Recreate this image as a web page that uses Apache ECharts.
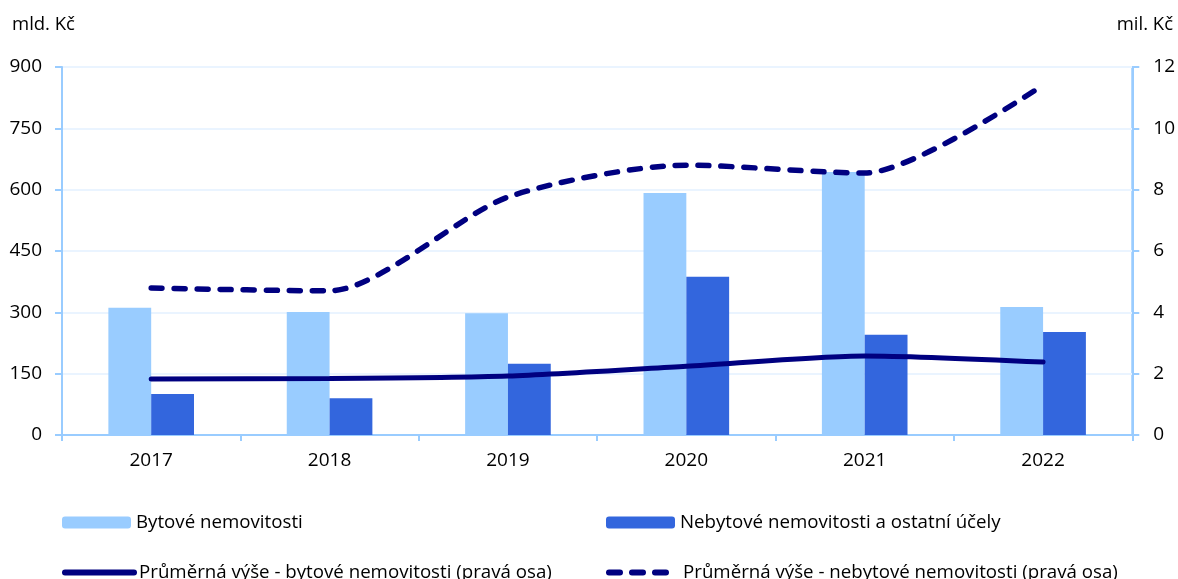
<!DOCTYPE html>
<html><head><meta charset="utf-8">
<script src="https://cdn.jsdelivr.net/npm/echarts@6/dist/echarts.min.js"></script>
<style>html,body{margin:0;padding:0;background:#fff}#c{width:1178px;height:579px}</style>
</head><body><div id="c"></div>
<script>
var years = ['2017','2018','2019','2020','2021','2022'];
var bytove = [311, 301, 298, 592, 643, 313];
var nebytove = [100, 90, 174, 387, 245, 252];
var prumBytove = [1.83, 1.84, 1.92, 2.24, 2.58, 2.38];
var prumNebytove = [4.79, 4.70, 7.76, 8.80, 8.54, 11.41];
var names = ['Bytové nemovitosti','Nebytové nemovitosti a ostatní účely','Průměrná výše - bytové nemovitosti (pravá osa)','Průměrná výše - nebytové nemovitosti (pravá osa)'];

var F = '"Open Sans", Lato, sans-serif';
var chart = echarts.init(document.getElementById('c'));
var txt = {color:'#000', fontSize:18.7, fontFamily:F};
function lg(name, left, top, isLine){
  var o = {data:[name], left:left, top:top, itemWidth:69, itemHeight:12, itemGap:0, textStyle:txt, selectedMode:false, padding:0};
  if (isLine) {
    o.itemStyle = {opacity:0, color:'transparent', borderWidth:0};
    o.lineStyle = {width:6, cap:'round'};
  }
  return o;
}
chart.setOption({
  animation:false,
  textStyle:{fontFamily:F},
  grid:{left:62, right:45, top:67, bottom:144, show:true, borderColor:'#99ccff', borderWidth:2},
  graphic:[
    {type:'text', left:12, top:15, style:{text:'mld. Kč', font:'18.5px '+F, fill:'#000'}},
    {type:'text', right:5, top:15, style:{text:'mil. Kč', font:'18.5px '+F, fill:'#000'}}
  ],
  legend:[
    lg(names[0], 62, 513, false),
    lg(names[1], 606, 513, false),
    lg(names[2], 62, 563, true),
    lg(names[3], 606, 563, true)
  ],
  xAxis:{type:'category', data:years,
    axisLine:{lineStyle:{color:'#99ccff', width:2}},
    axisTick:{show:true, length:6, lineStyle:{color:'#99ccff', width:2}},
    axisLabel:{color:'#000', fontSize:19, fontFamily:F, margin:16}},
  yAxis:[
    {type:'value', min:0, max:900, interval:150,
     axisLine:{show:true, lineStyle:{color:'#99ccff', width:2}},
     axisTick:{show:true, length:7, lineStyle:{color:'#99ccff', width:2}},
     axisLabel:{color:'#000', fontSize:19, fontFamily:F, margin:20},
     splitLine:{show:true, lineStyle:{color:'#eaf4ff', width:2}}},
    {type:'value', min:0, max:12, interval:2, position:'right',
     axisLine:{show:true, lineStyle:{color:'#99ccff', width:2}},
     axisTick:{show:true, length:7, lineStyle:{color:'#99ccff', width:2}},
     axisLabel:{color:'#000', fontSize:19, fontFamily:F, margin:21},
     splitLine:{show:false}}
  ],
  series:[
    {name:names[0], type:'bar', data:bytove, barWidth:'24%', barGap:'0%', itemStyle:{color:'#99ccff'}},
    {name:names[1], type:'bar', data:nebytove, barWidth:'24%', barGap:'0%', itemStyle:{color:'#3366dd'}},
    {name:names[2], type:'line', yAxisIndex:1, data:prumBytove, symbol:'none', smooth:0.25,
     lineStyle:{color:'#000080', width:5, cap:'round'}, itemStyle:{color:'#000080'}},
    {name:names[3], type:'line', yAxisIndex:1, data:prumNebytove, symbol:'none', smooth:0.25,
     lineStyle:{color:'#000080', width:5.5, type:[11,12], cap:'round'}, itemStyle:{color:'#000080'}}
  ]
});
</script></body></html>
